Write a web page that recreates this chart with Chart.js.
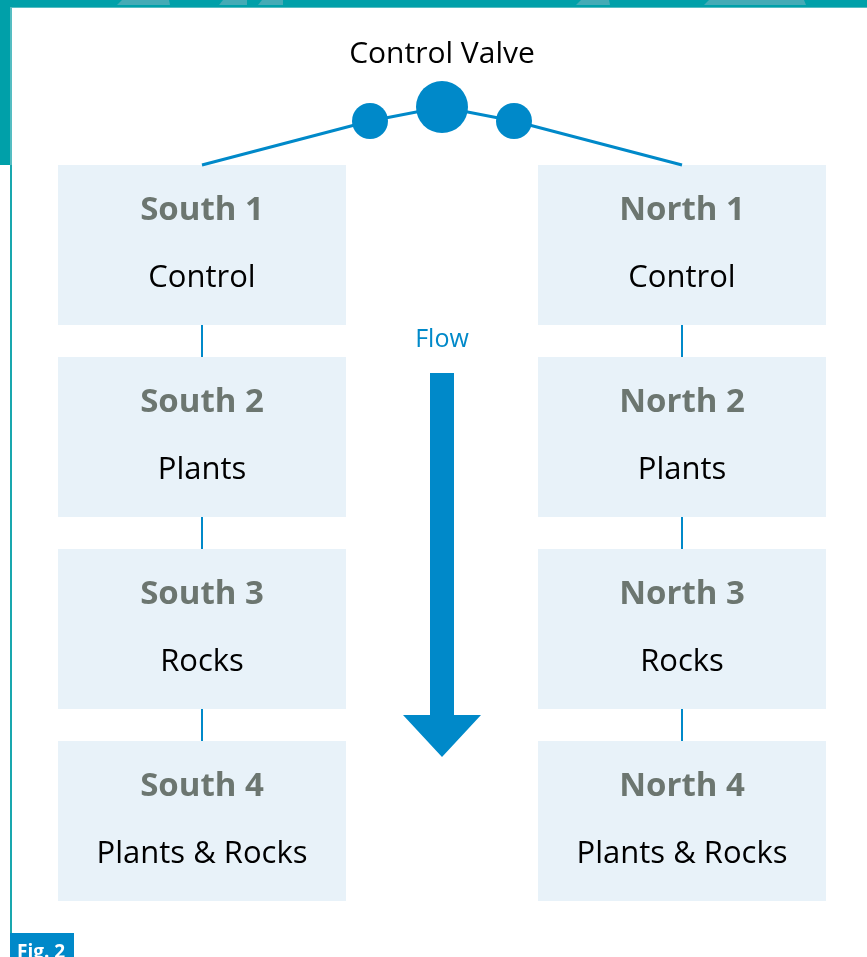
<!DOCTYPE html>
<html>
<head>
<meta charset="utf-8">
<script src="https://cdn.jsdelivr.net/npm/chart.js@4"></script>
<style>
  html, body { margin: 0; padding: 0; background: #ffffff; }
  canvas { display: block; }
</style>
</head>
<body>
<canvas id="c" width="867" height="957"></canvas>
<script>
// ---------- data ----------
const sites = ['South', 'North'];
const stageNumbers = ['1', '2', '3', '4'];
const treatments = ['Control', 'Plants', 'Rocks', 'Plants & Rocks'];
const valveLabel = 'Control Valve';
const flowLabel = 'Flow';
const figLabel = 'Fig. 2';
const valveNodes = ['inlet left', 'valve', 'inlet right'];

// ---------- layout (diagram coordinates in scale units) ----------
const W = 867, H = 957;
const L = {
  colX: [202, 682],
  boxW: 288, boxH: 160,
  rowTop: [165, 357, 549, 741],
  titleOff: 55, subOff: 122,
  valvePts: [{x: 370, y: 121}, {x: 442, y: 107}, {x: 514, y: 121}],
  valveR: [18, 26, 18],
  arrow: {x: 442, shaftW: 24, top: 373, headY: 715, headW: 78, tip: 757},
};
const BLUE = '#0089c9', TEAL = '#00a0a9', BOX = '#e8f2f9', GRAY = '#6c7670';
const FONT = '"Open Sans", "DejaVu Sans", sans-serif';

const valveLine = [{x: L.colX[0], y: L.rowTop[0]}, ...L.valvePts, {x: L.colX[1], y: L.rowTop[0]}];

const diagram = {
  id: 'diagram',
  beforeDatasetsDraw(chart) {
    const {ctx} = chart;
    const sx = v => chart.scales.x.getPixelForValue(v);
    const sy = v => chart.scales.y.getPixelForValue(v);
    ctx.save();
    // background frame
    ctx.fillStyle = '#ffffff';
    ctx.fillRect(sx(0), sy(0), sx(W) - sx(0), sy(H) - sy(0));
    ctx.fillStyle = TEAL;
    ctx.fillRect(sx(0), sy(0), sx(W) - sx(0), sy(7) - sy(0));
    ctx.fillRect(sx(0), sy(0), sx(10) - sx(0), sy(165) - sy(0));
    // faint decorative shapes in the top band
    ctx.fillStyle = '#44abb6';
    [[117, 170, 120, 167], [219, 247, 221, 245], [258, 283, 260, 281], [576, 610, 579, 607], [704, 806, 707, 802]].forEach(s => {
      ctx.beginPath();
      ctx.moveTo(sx(s[0]), sy(5)); ctx.lineTo(sx(s[1]), sy(5));
      ctx.lineTo(sx(s[3] + 2), sy(0)); ctx.lineTo(sx(s[2] + 2), sy(0));
      ctx.closePath(); ctx.fill();
    });
    // panel border
    ctx.fillStyle = '#55bdc2';
    ctx.fillRect(sx(10), sy(7), sx(12) - sx(10), sy(165) - sy(7));
    ctx.fillRect(sx(10), sy(7), sx(W) - sx(10), sy(8) - sy(7));
    ctx.fillStyle = '#19a7ae';
    ctx.fillRect(sx(10), sy(165), sx(12) - sx(10), sy(933) - sy(165));
    // boxes
    ctx.fillStyle = BOX;
    sites.forEach((s, c) => {
      L.rowTop.forEach(t => {
        ctx.fillRect(sx(L.colX[c] - L.boxW / 2), sy(t), sx(L.boxW) - sx(0), sy(t + L.boxH) - sy(t));
      });
    });
    // connectors
    ctx.strokeStyle = BLUE; ctx.lineWidth = 2;
    sites.forEach((s, c) => {
      for (let i = 0; i < L.rowTop.length - 1; i++) {
        ctx.beginPath();
        ctx.moveTo(sx(L.colX[c]), sy(L.rowTop[i] + L.boxH));
        ctx.lineTo(sx(L.colX[c]), sy(L.rowTop[i + 1]));
        ctx.stroke();
      }
    });
    // flow arrow
    const a = L.arrow;
    ctx.fillStyle = BLUE;
    ctx.beginPath();
    ctx.moveTo(sx(a.x - a.shaftW / 2), sy(a.top));
    ctx.lineTo(sx(a.x + a.shaftW / 2), sy(a.top));
    ctx.lineTo(sx(a.x + a.shaftW / 2), sy(a.headY));
    ctx.lineTo(sx(a.x + a.headW / 2), sy(a.headY));
    ctx.lineTo(sx(a.x), sy(a.tip));
    ctx.lineTo(sx(a.x - a.headW / 2), sy(a.headY));
    ctx.lineTo(sx(a.x - a.shaftW / 2), sy(a.headY));
    ctx.closePath(); ctx.fill();
    ctx.restore();
  },
  afterDatasetsDraw(chart) {
    const {ctx} = chart;
    const sx = v => chart.scales.x.getPixelForValue(v);
    const sy = v => chart.scales.y.getPixelForValue(v);
    ctx.save();
    ctx.textAlign = 'center';
    ctx.textBaseline = 'alphabetic';
    sites.forEach((s, c) => {
      L.rowTop.forEach((t, r) => {
        ctx.fillStyle = GRAY;
        ctx.font = 'bold 33px ' + FONT;
        ctx.fillText(s + ' ' + stageNumbers[r], sx(L.colX[c]), sy(t + L.titleOff));
        ctx.fillStyle = '#000000';
        ctx.font = '31px ' + FONT;
        ctx.fillText(treatments[r], sx(L.colX[c]), sy(t + L.subOff));
      });
    });
    ctx.fillStyle = '#000000';
    ctx.font = '30px ' + FONT;
    ctx.fillText(valveLabel, sx(442), sy(63));
    ctx.fillStyle = BLUE;
    ctx.font = '25px ' + FONT;
    ctx.fillText(flowLabel, sx(442), sy(347));
    // figure tag
    ctx.fillStyle = BLUE;
    ctx.fillRect(sx(10), sy(933), sx(74) - sx(10), sy(H) - sy(933));
    ctx.fillStyle = '#ffffff';
    ctx.textAlign = 'left';
    ctx.font = 'bold 19px ' + FONT;
    ctx.fillText(figLabel, sx(17), sy(958));
    ctx.restore();
  }
};

new Chart(document.getElementById('c').getContext('2d'), {
  type: 'scatter',
  data: {
    datasets: [
      {
        label: 'valve nodes',
        data: L.valvePts.map((p, i) => ({x: p.x, y: p.y, name: valveNodes[i]})),
        pointRadius: L.valveR,
        pointBackgroundColor: BLUE,
        pointBorderWidth: 0,
        showLine: false
      },
      {
        label: 'valve pipe',
        type: 'line',
        data: valveLine,
        borderColor: BLUE,
        borderWidth: 3,
        pointRadius: 0,
        fill: false,
        tension: 0
      }
    ]
  },
  options: {
    responsive: false,
    animation: false,
    events: [],
    layout: {padding: 0, autoPadding: false},
    plugins: {legend: {display: false}, tooltip: {enabled: false}},
    scales: {
      x: {type: 'linear', min: 0, max: W, display: false},
      y: {type: 'linear', min: 0, max: H, reverse: true, display: false}
    }
  },
  plugins: [diagram]
});
</script>
</body>
</html>
